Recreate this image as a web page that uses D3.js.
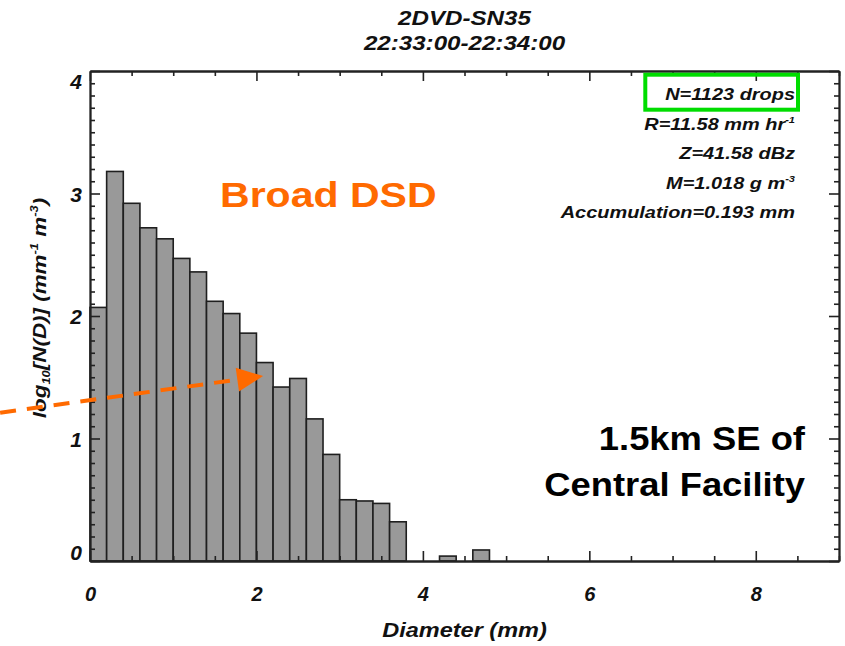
<!DOCTYPE html>
<html>
<head>
<meta charset="utf-8">
<script src="https://cdn.jsdelivr.net/npm/d3@7/dist/d3.min.js"></script>
<style>
  html, body { margin: 0; padding: 0; background: #fff; }
  svg { display: block; }
  .idl { font-family: "Liberation Sans", Arial, Helvetica, sans-serif; font-weight: bold; font-style: italic; fill: #111; }
  .plain { font-family: "Liberation Sans", Arial, Helvetica, sans-serif; font-weight: bold; }
</style>
</head>
<body>
<script>
// Drop size distribution from the 2DVD, one-minute sample, 0.2 mm diameter bins
const binLower = [0.0, 0.2, 0.4, 0.6, 0.8, 1.0, 1.2, 1.4, 1.6, 1.8, 2.0, 2.2, 2.4, 2.6, 2.8, 3.0, 3.2, 3.4, 3.6, 4.2, 4.6];
const logND    = [2.07, 3.18, 2.92, 2.72, 2.63, 2.47, 2.36, 2.12, 2.02, 1.86, 1.62, 1.42, 1.49, 1.16, 0.87, 0.50, 0.49, 0.47, 0.32, 0.04, 0.09];
const binWidth = 0.2;

const xTickValues = [0, 2, 4, 6, 8];
const yTickValues = [0, 1, 2, 3, 4];

const titleLines = ["2DVD-SN35", "22:33:00-22:34:00"];
const statsLines = ["N=1123 drops", "R=11.58 mm hr", "Z=41.58 dBz", "M=1.018 g m", "Accumulation=0.193 mm"];
const statsSup   = [null, "-1", null, "-3", null];

// arrow from off-axis toward the broad part of the spectrum (mm, log10 units)
const arrowStart = [-1.08, 1.21];
const arrowEnd   = [2.08, 1.51];

const W = 845, H = 646;
const plot = { left: 90, right: 839, top: 71, bottom: 561 };

const svg = d3.select("body").append("svg").attr("width", W).attr("height", H);
svg.append("rect").attr("width", W).attr("height", H).attr("fill", "#fff");

const x = d3.scaleLinear().domain([0, 9]).range([plot.left, plot.right]);
const y = d3.scaleLinear().domain([0, 4]).range([plot.bottom, plot.top]);

// histogram bars
svg.append("g").selectAll("rect")
  .data(binLower.map((d, i) => ({ d0: d, v: logND[i] })))
  .join("rect")
  .attr("x", d => x(d.d0))
  .attr("width", d => x(d.d0 + binWidth) - x(d.d0))
  .attr("y", d => y(d.v))
  .attr("height", d => y(0) - y(d.v))
  .attr("fill", "#999999")
  .attr("stroke", "#1f1f1f")
  .attr("stroke-width", 1.6);

// box axes, ticks pointing inward
function styleAxis(g) {
  g.selectAll("path.domain").attr("stroke", "#222").attr("stroke-width", 1.8);
  g.selectAll(".tick line").attr("stroke", "#222").attr("stroke-width", 1.6);
}
const minorX = d3.range(0, 9.01, 0.5).filter(v => v % 2 !== 0);
const minorY = d3.range(0, 4.001, 0.1).map(v => +v.toFixed(1)).filter(v => v % 1 !== 0);

// bottom
const gxb = svg.append("g").attr("transform", `translate(0,${plot.bottom})`)
  .call(d3.axisBottom(x).tickValues(xTickValues).tickSize(-10).tickSizeOuter(0).tickPadding(26).tickFormat(d3.format("d")));
gxb.selectAll("text").attr("class", "idl").attr("font-size", 20).attr("fill", "#111");
styleAxis(gxb);
const gxbm = svg.append("g").attr("transform", `translate(0,${plot.bottom})`)
  .call(d3.axisBottom(x).tickValues(minorX).tickSize(-5).tickSizeOuter(0).tickFormat(""));
styleAxis(gxbm);
// top
const gxt = svg.append("g").attr("transform", `translate(0,${plot.top})`)
  .call(d3.axisTop(x).tickValues(xTickValues).tickSize(-10).tickSizeOuter(0).tickFormat(""));
styleAxis(gxt);
const gxtm = svg.append("g").attr("transform", `translate(0,${plot.top})`)
  .call(d3.axisTop(x).tickValues(minorX).tickSize(-5).tickSizeOuter(0).tickFormat(""));
styleAxis(gxtm);
// left
const gyl = svg.append("g").attr("transform", `translate(${plot.left},0)`)
  .call(d3.axisLeft(y).tickValues(yTickValues).tickSize(-10).tickSizeOuter(0).tickPadding(8).tickFormat(d3.format("d")));
gyl.selectAll("text").attr("class", "idl").attr("font-size", 21).attr("fill", "#111")
  .attr("dy", d => d === 4 ? "0.85em" : d === 0 ? "-0.08em" : "0.36em");
styleAxis(gyl);
const gylm = svg.append("g").attr("transform", `translate(${plot.left},0)`)
  .call(d3.axisLeft(y).tickValues(minorY).tickSize(-5).tickSizeOuter(0).tickFormat(""));
styleAxis(gylm);
// right
const gyr = svg.append("g").attr("transform", `translate(${plot.right},0)`)
  .call(d3.axisRight(y).tickValues(yTickValues).tickSize(-10).tickSizeOuter(0).tickFormat(""));
styleAxis(gyr);
const gyrm = svg.append("g").attr("transform", `translate(${plot.right},0)`)
  .call(d3.axisRight(y).tickValues(minorY).tickSize(-5).tickSizeOuter(0).tickFormat(""));
styleAxis(gyrm);

// title
titleLines.forEach((t, i) => {
  svg.append("text").attr("class", "idl")
    .attr("transform", `translate(${(plot.left + plot.right) / 2},${25 + i * 25}) scale(1.15,1)`)
    .attr("text-anchor", "middle").attr("font-size", 21).text(t);
});

// axis titles
svg.append("text").attr("class", "idl")
  .attr("transform", `translate(${(plot.left + plot.right) / 2},637) scale(1.12,1)`)
  .attr("text-anchor", "middle").attr("font-size", 21).text("Diameter (mm)");

const yLab = svg.append("text").attr("class", "idl")
  .attr("transform", `translate(46,308) rotate(-90) scale(1.18,1)`)
  .attr("text-anchor", "middle").attr("font-size", 19);
yLab.append("tspan").text("log");
yLab.append("tspan").attr("font-size", 11).attr("dy", 4).text("10");
yLab.append("tspan").attr("dy", -4).text("[N(D)] (mm");
yLab.append("tspan").attr("font-size", 11).attr("dy", -8).text("-1");
yLab.append("tspan").attr("dy", 8).text(" m");
yLab.append("tspan").attr("font-size", 11).attr("dy", -8).text("-3");
yLab.append("tspan").attr("dy", 8).text(")");

// rain statistics
statsLines.forEach((t, i) => {
  const tx = svg.append("text").attr("class", "idl")
    .attr("transform", `translate(795,${100 + i * 29.5}) scale(1.16,1)`)
    .attr("text-anchor", "end").attr("font-size", 17.2);
  tx.append("tspan").text(t);
  if (statsSup[i]) tx.append("tspan").attr("font-size", 9.5).attr("dy", -7).text(statsSup[i]);
});
svg.append("rect")
  .attr("x", 645.3).attr("y", 74.7).attr("width", 798 - 645.3).attr("height", 109.7 - 74.7)
  .attr("fill", "none").attr("stroke", "#00dd00").attr("stroke-width", 4);

// annotations
svg.append("text").attr("class", "plain")
  .attr("transform", "translate(220,207) scale(1.14,1)")
  .attr("font-size", 36).attr("fill", "#ff6a00").text("Broad DSD");
["1.5km SE of", "Central Facility"].forEach((t, i) => {
  svg.append("text").attr("class", "plain")
    .attr("transform", `translate(805,${450 + i * 46}) scale(1.07,1)`)
    .attr("text-anchor", "end").attr("font-size", 34).attr("fill", "#000").text(t);
});

// dashed arrow
const p0 = [x(arrowStart[0]), y(arrowStart[1])];
const p1 = [x(arrowEnd[0]), y(arrowEnd[1])];
const dx = p1[0] - p0[0], dy = p1[1] - p0[1];
const len = Math.hypot(dx, dy), ux = dx / len, uy = dy / len;
const headLen = 26, headHalf = 12;
const base = [p1[0] - headLen * ux, p1[1] - headLen * uy];
svg.append("line")
  .attr("x1", p0[0]).attr("y1", p0[1]).attr("x2", base[0] + 2 * ux).attr("y2", base[1] + 2 * uy)
  .attr("stroke", "#ff6a00").attr("stroke-width", 4).attr("stroke-dasharray", "16,11");
svg.append("path")
  .attr("d", `M${p1[0]},${p1[1]}L${base[0] - headHalf * uy},${base[1] + headHalf * ux}L${base[0] + headHalf * uy},${base[1] - headHalf * ux}Z`)
  .attr("fill", "#ff6a00");
</script>
</body>
</html>
